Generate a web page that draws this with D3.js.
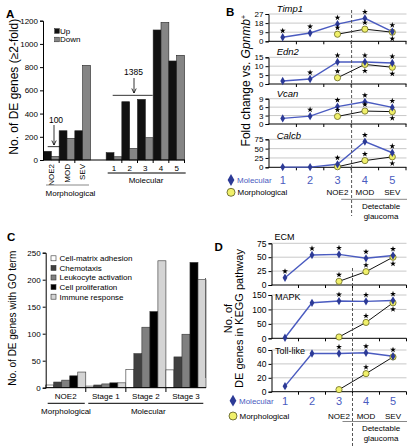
<!DOCTYPE html>
<html><head><meta charset="utf-8">
<script src="https://cdn.jsdelivr.net/npm/d3@7"></script>
<style>body{margin:0;background:#fff} svg{font-family:"Liberation Sans",Arial,sans-serif}</style>
</head><body><svg id="c" width="417" height="447"></svg>
<script>
// ---------- DATA ----------
// Panel A
const aCats = ["NOE2","MOD","SEV","","1","2","3","4","5"];
const aUp   = [75,252,252,null,63,502,522,1120,853];
const aDown = [30,187,815,null,28,100,192,1185,902];
const aTicks = [0,200,400,600,800,1000,1200];
const aSeries = ["Up","Down"];
// Panel B
const bStages = [1,2,3,4,5];
const bGenes = ["Timp1","Edn2","Vcan","Calcb"];
const bTicks = [[0,9,18,27],[0,5,10,15],[0,3,6,9],[0,25,50,75]];
const bMol = [[4,8.2,17,22.7,9.6],[1.7,2.8,12.4,12.4,11.8],[2,2.8,6.2,7.9,5.9],[0.5,0.5,8,69,39]];
const bMorph = [[null,null,7,12,9],[null,null,3.5,11,9.4],[null,null,2.7,4.6,4.4],[null,null,1.5,18,28]];
const bMolStar = [[1,1,1,1,1],[0,1,1,1,1],[0,1,1,1,1],[0,0,1,1,1]];
const bMorphStar = [[0,0,1,1,-1],[0,0,1,-1,-1],[0,0,1,1,-1],[0,0,0,1,-1]];
// Panel C
const cGroups = ["NOE2","Stage 1","Stage 2","Stage 3"];
const cTerms = ["Cell-matrix adhesion","Chemotaxis","Leukocyte activation","Cell proliferation","Immune response"];
const cCellMatrix = [5,3,34,33];
const cChemotaxis = [10.5,5,63,57];
const cLeukocyte = [14,7,112,99];
const cProlif = [22,9,141,232];
const cImmune = [29,9,235,200];
const cTicks = [0,50,100,150,200,250];
// Panel D
const dPaths = ["ECM","MAPK","Toll-like"];
const dTicks = [[0,25,50,75],[0,50,100,150],[0,20,40,60]];
const dMol = [[13,54,55,48,53],[2,123,129,128,131],[8,55,55,56,51]];
const dMorph = [[null,null,6.6,24,50],[null,null,4.5,55,123],[null,null,3,26,50]];
const dMolStar = [[1,1,1,1,1],[0,0,1,1,1],[0,0,1,1,1]];
const dMorphStar = [[0,0,1,1,-1],[0,0,0,1,-1],[0,0,0,1,0]];
const stageLabels = ["","","NOE2","MOD","SEV"];

// ---------- DRAW ----------
const svg = d3.select("#c");
const BLUE = "#4a5bc0", DBLUE="#2c3a96", YEL="#f0f06a";

function letter(t,x,y){svg.append("text").attr("x",x).attr("y",y).attr("font-size",11.5).attr("font-weight","bold").text(t);}
function txt(t,x,y,o={}){const e=svg.append("text").attr("x",x).attr("y",y).attr("font-size",o.fs||8).attr("text-anchor",o.anchor||"start").attr("fill",o.fill||"#000").text(t); if(o.style) e.attr("font-style",o.style); return e;}
function vlabel(lines,x,y,fs,gap){lines.forEach((l,i)=>{svg.append("text").attr("transform",`translate(${x+i*gap},${y}) rotate(-90)`).attr("text-anchor","middle").attr("dy","0.35em").attr("font-size",fs).text(l);});}
function styleAxis(g,fs){g.selectAll("path").attr("stroke","#000");g.selectAll("line").attr("stroke","#000");g.selectAll("text").attr("font-size",fs).attr("fill","#000").attr("font-family","Liberation Sans, Arial, sans-serif");}

// ===== Panel A =====
letter("A",6,17.5);
const xA = d3.scaleBand().domain(aCats).range([43.5,184.5]);
const xAs = d3.scaleBand().domain(aSeries).range([0,xA.bandwidth()]);
const yA = d3.scaleLinear().domain([0,1200]).range([160,20.7]);
const gA = svg.append("g");
aCats.forEach((c,i)=>{
  if(aUp[i]==null) return;
  [["Up",aUp[i],"#111"],["Down",aDown[i],"#858585"]].forEach(([s,v,col])=>{
    gA.append("rect").attr("x",xA(c)+xAs(s)).attr("width",xAs.bandwidth()).attr("y",yA(v)).attr("height",yA(0)-yA(v)).attr("fill",col).attr("stroke","#222").attr("stroke-width",0.6);
  });
});
const axA = svg.append("g").attr("transform","translate(43,0)").call(d3.axisLeft(yA).tickValues(aTicks).tickFormat(d3.format("d")).tickSize(3).tickPadding(2));
styleAxis(axA,8);
svg.append("line").attr("x1",43).attr("x2",185).attr("y1",160).attr("y2",160).attr("stroke","#000");
aCats.forEach(c=>{ if(c==="NOE2"||c==="1"||c==="") return; svg.append("line").attr("x1",xA(c)).attr("x2",xA(c)).attr("y1",160).attr("y2",163).attr("stroke","#000");});
svg.append("line").attr("x1",xA("5")+xA.bandwidth()).attr("x2",xA("5")+xA.bandwidth()).attr("y1",160).attr("y2",163).attr("stroke","#000");
["NOE2","MOD","SEV"].forEach(c=>{svg.append("text").attr("transform",`translate(${xA(c)+xA.bandwidth()/2},164) rotate(-90)`).attr("text-anchor","end").attr("dy","0.35em").attr("font-size",8).text(c);});
["1","2","3","4","5"].forEach(c=>txt(c,xA(c)+xA.bandwidth()/2,170.5,{anchor:"middle",fs:8}));
svg.append("line").attr("x1",46).attr("x2",89).attr("y1",185).attr("y2",185).attr("stroke","#888");
txt("Morphological",70.5,196,{anchor:"middle",fs:8});
svg.append("line").attr("x1",107.7).attr("x2",185.7).attr("y1",173).attr("y2",173).attr("stroke","#000");
txt("Molecular",146,183,{anchor:"middle",fs:8});
// legend A
[["Up","#111",31],["Down","#858585",39.5]].forEach(([s,c,y])=>{
  svg.append("rect").attr("x",54.7).attr("y",y-2.3).attr("width",4.6).attr("height",4.6).attr("fill",c).attr("stroke","#222").attr("stroke-width",0.5);
  txt(s,60,y+2.9,{fs:8});
});
// annotations A
function arrow(x,y1,y2){svg.append("line").attr("x1",x).attr("x2",x).attr("y1",y1).attr("y2",y2).attr("stroke","#000").attr("stroke-width",0.8);
  svg.append("path").attr("d",`M${x-2.2},${y2-4.5}L${x},${y2}L${x+2.2},${y2-4.5}`).attr("fill","none").attr("stroke","#000").attr("stroke-width",0.8);}
svg.append("line").attr("x1",47.7).attr("x2",60).attr("y1",yA(115)).attr("y2",yA(115)).attr("stroke","#000").attr("stroke-width",0.8);
arrow(54,125,145);
txt("100",56,123,{anchor:"middle",fs:8.5});
svg.append("line").attr("x1",112.7).attr("x2",152.7).attr("y1",yA(557)).attr("y2",yA(557)).attr("stroke","#000").attr("stroke-width",0.8);
arrow(134,78,93);
txt("1385",133.5,74.5,{anchor:"middle",fs:8.5});
vlabel(["No. of DE genes (\u22652-fold)"],13.3,86.7,12,0);

// ===== line panels =====
function linePanel(xs,x0,x1,y0,y1,ticks,mol,morph,molStar,morphStar,label,italic,lx,ly,lfs,tfs){
  const y = d3.scaleLinear().domain([0,ticks[ticks.length-1]]).range([y0,y1]);
  ticks.slice(1).forEach(t=>svg.append("line").attr("x1",x0).attr("x2",x1).attr("y1",y(t)).attr("y2",y(t)).attr("stroke","#c8c8c8").attr("stroke-width",1));
  const ax = svg.append("g").attr("transform",`translate(${x0},0)`).call(d3.axisLeft(y).tickValues(ticks).tickSize(3).tickPadding(2));
  styleAxis(ax,tfs);
  svg.append("line").attr("x1",x0).attr("x2",x1).attr("y1",y0).attr("y2",y0).attr("stroke","#000");
  bStages.forEach(s=>{const xx=xs(s)+xs.bandwidth(); svg.append("line").attr("x1",xx).attr("x2",xx).attr("y1",y0).attr("y2",y0+3).attr("stroke","#000");});
  const cx = s=>xs(s)+xs.bandwidth()/2;
  const line = d3.line().defined(d=>d.v!=null).x(d=>cx(d.s)).y(d=>y(d.v));
  const molD = bStages.map((s,i)=>({s,v:mol[i]}));
  const morD = bStages.map((s,i)=>({s,v:morph[i]}));
  svg.append("path").datum(morD).attr("d",line).attr("fill","none").attr("stroke","#111").attr("stroke-width",1);
  svg.append("path").datum(molD).attr("d",line).attr("fill","none").attr("stroke",BLUE).attr("stroke-width",1.4);
  morD.filter(d=>d.v!=null).forEach(d=>svg.append("circle").attr("cx",cx(d.s)).attr("cy",y(d.v)).attr("r",3.1).attr("fill",YEL).attr("stroke","#6a6a20").attr("stroke-width",0.8));
  molD.forEach(d=>svg.append("path").attr("transform",`translate(${cx(d.s)},${y(d.v)})`).attr("d",d3.symbol(d3.symbolDiamond,20)).attr("fill",DBLUE));
  const star = d3.symbol(d3.symbolStar,11);
  molD.forEach((d,i)=>{ if(molStar[i]) svg.append("path").attr("transform",`translate(${cx(d.s)},${y(d.v)-6.5*molStar[i]})`).attr("d",star).attr("fill","#000");});
  morD.forEach((d,i)=>{ if(morphStar[i]) svg.append("path").attr("transform",`translate(${cx(d.s)},${y(d.v)-6.5*morphStar[i]})`).attr("d",star).attr("fill","#000");});
  txt(label,lx,ly,{fs:lfs,style:italic?"italic":null});
}
function bottomLegend(xs,yNum,yMorph,ulY,detY,legX){
  svg.append("path").attr("transform",`translate(${legX},${yNum})`).attr("d",d3.symbol(d3.symbolDiamond,40)).attr("fill",DBLUE);
  txt("Molecular",legX+6,yNum+3,{fs:8,fill:BLUE});
  svg.append("circle").attr("cx",legX).attr("cy",yMorph).attr("r",4).attr("fill",YEL).attr("stroke","#555520").attr("stroke-width",0.8);
  txt("Morphological",legX+6.5,yMorph+3,{fs:8});
  bStages.forEach((s,i)=>{ const c=xs(s)+xs.bandwidth()/2; txt(String(s),c,yNum+4,{anchor:"middle",fs:11,fill:BLUE}); if(stageLabels[i]) txt(stageLabels[i],c,yMorph+3,{anchor:"middle",fs:8});});
  svg.append("line").attr("x1",xs(4)-10).attr("x2",407).attr("y1",ulY).attr("y2",ulY).attr("stroke","#888");
  txt("Detectable",381,detY,{anchor:"middle",fs:8});
  txt("glaucoma",381,detY+10.5,{anchor:"middle",fs:8});
}

// ===== Panel B =====
letter("B",226,15.5);
const xB = d3.scaleBand().domain(bStages).range([269,406]);
const bLay = [[41.3,14],[84,57.3],[124,98.7],[167.3,139.3]];
const bLbl = [12.3,55,97,138.5];
bGenes.forEach((g,i)=>linePanel(xB,268.5,406.5,bLay[i][0],bLay[i][1],bTicks[i],bMol[i],bMorph[i],bMolStar[i],bMorphStar[i],g,true,276.7,bLbl[i],9.5,8));
svg.append("line").attr("x1",351.6).attr("x2",351.6).attr("y1",10).attr("y2",216).attr("stroke","#555").attr("stroke-dasharray","3,2");
bottomLegend(xB,180,192.3,199.3,208.5,231);
// B y label with italic Gpnmb and superscript
const bl = svg.append("text").attr("transform","translate(246,80.7) rotate(-90)").attr("text-anchor","middle").attr("dy","0.35em").attr("font-size",12);
bl.append("tspan").text("Fold change vs. ");
bl.append("tspan").attr("font-style","italic").text("Gpnmb");
bl.append("tspan").attr("font-size",7).attr("dy","-4").text("+");

// ===== Panel C =====
letter("C",7,241);
const xC = d3.scaleBand().domain(cGroups).range([45.7,206]);
const xCs = d3.scaleBand().domain(cTerms).range([0,xC.bandwidth()]);
const yC = d3.scaleLinear().domain([0,250]).range([387.7,252.7]);
const cCols = ["#ffffff","#404040","#808080","#000000","#d4d4d4"];
const cSeries = [cCellMatrix,cChemotaxis,cLeukocyte,cProlif,cImmune];
cGroups.forEach((g,gi)=>cTerms.forEach((t,ti)=>{
  const v=cSeries[ti][gi];
  svg.append("rect").attr("x",xC(g)+xCs(t)).attr("width",xCs.bandwidth()).attr("y",yC(v)).attr("height",yC(0)-yC(v)).attr("fill",cCols[ti]).attr("stroke","#333").attr("stroke-width",0.6);
}));
const axC = svg.append("g").attr("transform","translate(45.7,0)").call(d3.axisLeft(yC).tickValues(cTicks).tickSize(3).tickPadding(2));
styleAxis(axC,8);
svg.append("line").attr("x1",45.7).attr("x2",206).attr("y1",387.7).attr("y2",387.7).attr("stroke","#000");
cGroups.forEach((g,i)=>{ if(i>0) svg.append("line").attr("x1",xC(g)).attr("x2",xC(g)).attr("y1",387.7).attr("y2",392).attr("stroke","#000");
  txt(g,xC(g)+xC.bandwidth()/2,398.5,{anchor:"middle",fs:8});});
svg.append("line").attr("x1",xC("NOE2")+2).attr("x2",xC("NOE2")+xC.bandwidth()-1).attr("y1",403.3).attr("y2",403.3).attr("stroke","#000");
txt("Morphological",66,413.5,{anchor:"middle",fs:8});
svg.append("line").attr("x1",xC("Stage 1")+2.5).attr("x2",203.3).attr("y1",403.3).attr("y2",403.3).attr("stroke","#000");
txt("Molecular",148.3,413.5,{anchor:"middle",fs:8});
cTerms.forEach((t,i)=>{ const y=258.3+i*9.6;
  svg.append("rect").attr("x",51).attr("y",y-2.5).attr("width",5).attr("height",5).attr("fill",cCols[i]).attr("stroke","#333").attr("stroke-width",0.6);
  txt(t,59.5,y+2.9,{fs:8});});
vlabel(["No. of DE genes with GO term"],12.3,318.3,10,0);

// ===== Panel D =====
letter("D",214.5,250.5);
const xD = d3.scaleBand().domain(bStages).range([271.5,406.5]);
const dLay = [[285,243.3],[338.3,295],[391.7,350]];
const dLbl = [[274.5,240],[275,300],[275,354]];
dPaths.forEach((p,i)=>linePanel(xD,271.5,406.5,dLay[i][0],dLay[i][1],dTicks[i],dMol[i],dMorph[i],dMolStar[i],dMorphStar[i],p,false,dLbl[i][0],dLbl[i][1],9,8.5));
svg.append("line").attr("x1",352.5).attr("x2",352.5).attr("y1",268).attr("y2",447).attr("stroke","#555").attr("stroke-dasharray","3,2");
bottomLegend(xD,400.7,416,421.5,430.5,233);
vlabel(["No. of","DE genes in KEGG pathway"],228.3,318.5,11,10.5);
svg.append("line").attr("x1",205.5).attr("x2",205.5).attr("y1",278).attr("y2",378).attr("stroke","#666").attr("stroke-width",1);
</script></body></html>
